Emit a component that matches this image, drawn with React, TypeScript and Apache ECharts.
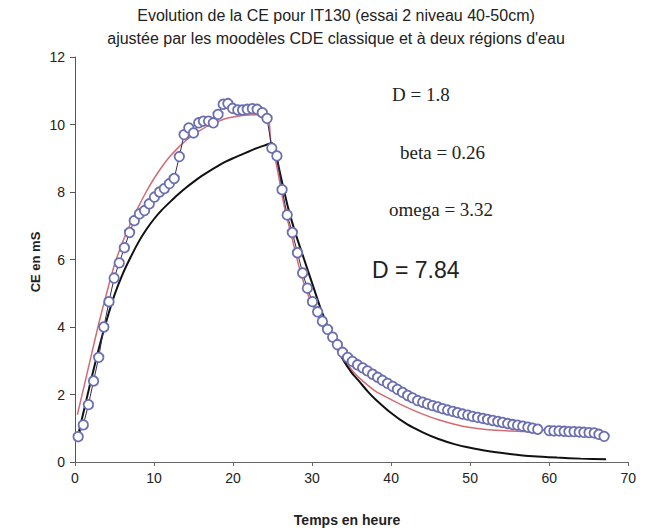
import React, { useEffect, useRef } from "react";
import * as echarts from "echarts";

const titleLines = [
  "Evolution de la CE pour IT130 (essai 2 niveau 40-50cm)",
  "ajustée par les moodèles CDE classique et à deux régions d'eau",
];
const xAxisName = "Temps en heure";
const yAxisName = "CE en mS";
const annotations = ["D = 1.8", "beta = 0.26", "omega = 3.32", "D = 7.84"];

// Observed CE (mS) vs time (h)
const obsTime = [
  0.4, 1.05, 1.7, 2.35, 3.0, 3.65, 4.3, 4.95, 5.6, 6.25, 6.9, 7.5, 8.15, 8.8, 9.4, 10.05, 10.7, 11.3, 11.95, 12.55,
  13.2, 13.8, 14.4, 15.0, 15.65, 16.25, 16.9, 17.5, 18.1, 18.75, 19.35, 19.95, 20.6, 21.2, 21.8, 22.45, 23.05, 23.7,
  24.3, 24.9, 25.55, 26.2, 26.85, 27.5, 28.15, 28.8, 29.4, 30.05, 30.7, 31.3, 31.95, 32.6, 33.2, 33.85, 34.5, 35.1,
  35.75, 36.4, 37.0, 37.65, 38.3, 38.9, 39.55, 40.2, 40.8, 41.45, 42.1, 42.7, 43.35, 44.0, 44.6, 45.25, 45.9, 46.5,
  47.15, 47.8, 48.4, 49.05, 49.7, 50.3, 50.95, 51.6, 52.2, 52.85, 53.5, 54.1, 54.75, 55.4, 56.0, 56.65, 57.3, 57.9,
  58.55, 60.0, 60.6, 61.25, 61.9, 62.5, 63.15, 63.8, 64.4, 65.05, 65.7, 66.3, 66.95,
];
const obsCE = [
  0.75, 1.1, 1.7, 2.4, 3.1, 4.0, 4.75, 5.45, 5.9, 6.35, 6.8, 7.15, 7.35, 7.45, 7.65, 7.85, 8.0, 8.1, 8.25, 8.4,
  9.05, 9.7, 9.9, 9.75, 10.05, 10.1, 10.1, 10.05, 10.3, 10.6, 10.62, 10.48, 10.43, 10.43, 10.45, 10.47, 10.45, 10.35,
  10.18, 9.3, 9.07, 8.07, 7.32, 6.8, 6.2, 5.6, 5.15, 4.75, 4.45, 4.17, 3.93, 3.7, 3.48, 3.25, 3.1, 2.98,
  2.88, 2.79, 2.7, 2.6, 2.51, 2.42, 2.33, 2.24, 2.15, 2.06, 1.97, 1.9, 1.82, 1.77, 1.72, 1.67, 1.63, 1.58,
  1.54, 1.5, 1.46, 1.42, 1.39, 1.35, 1.32, 1.29, 1.26, 1.23, 1.2, 1.17, 1.14, 1.11, 1.09, 1.06, 1.03, 1.0,
  0.97, 0.93, 0.92, 0.92, 0.91, 0.9, 0.9, 0.89, 0.88, 0.87, 0.86, 0.82, 0.76,
];

// Two-region CDE fit (red)
const twoRegionTime = [
  0.3, 1, 2, 3, 4, 5, 6, 7, 8, 9, 10, 11, 12, 13, 14, 15, 16, 17, 18, 19, 20, 21, 22, 23, 24, 24.5, 24.8, 25.5,
  26.5, 27.5, 28.5, 29.5, 30.5, 31.5, 32.5, 33.5, 34.5, 35.5, 36.5, 38, 40, 42, 44, 46, 48, 50, 52, 54, 56, 57,
];
const twoRegionCE = [
  1.4, 2.1, 3.1, 4.1, 5.0, 5.85, 6.5, 7.05, 7.55, 8.0, 8.4, 8.75, 9.05, 9.3, 9.52, 9.7, 9.85, 9.98, 10.08, 10.17,
  10.22, 10.26, 10.28, 10.29, 10.28, 10.22, 9.45, 8.8, 7.55, 6.6, 5.65, 4.95, 4.45, 4.0, 3.6, 3.2, 2.88, 2.6, 2.38,
  2.1, 1.85, 1.62, 1.42, 1.25, 1.12, 1.02, 0.96, 0.93, 0.91, 0.9,
];

// Classic CDE fit (black)
const classicTime = [
  0.3, 1, 2, 3, 4, 5, 6, 7, 8, 9, 10, 11, 12, 13, 14, 15, 16, 17, 18, 19, 20, 21, 22, 23, 24, 24.9, 25.3, 26, 27,
  28, 29, 30, 31, 32, 33, 34, 35, 36, 37, 38, 40, 42, 44, 46, 48, 50, 52, 55, 58, 61, 64, 67.2,
];
const classicCE = [
  0.7, 1.4, 2.4, 3.35, 4.2, 4.95, 5.55, 6.05, 6.5, 6.88, 7.2, 7.47, 7.7, 7.92, 8.12, 8.3, 8.47, 8.62, 8.76, 8.89,
  9.0, 9.1, 9.2, 9.3, 9.38, 9.45, 9.25, 8.5, 7.5, 6.7, 6.0, 5.3, 4.6, 4.0, 3.45, 3.0, 2.65, 2.38, 2.1, 1.86,
  1.45, 1.12, 0.88, 0.68, 0.53, 0.42, 0.33, 0.24, 0.17, 0.13, 0.1, 0.08,
];

const xTicks = { min: 0, max: 70, interval: 10 };
const yTicks = { min: 0, max: 12, interval: 2 };

const zip = (a: number[], b: number[]) => a.map((v, i) => [v, b[i]]);

export default function App() {
  const ref = useRef<HTMLDivElement>(null);
  useEffect(() => {
    if (!ref.current) return;
    const chart = echarts.init(ref.current, null, { renderer: "svg" });
    const sans = "'Liberation Sans', Arial, sans-serif";
    const serif = "'Liberation Serif', 'Times New Roman', serif";
    chart.setOption({
      animation: false,
      backgroundColor: "#ffffff",
      grid: { left: 75, right: 4, top: 57, bottom: 69, containLabel: false },
      xAxis: {
        type: "value",
        min: xTicks.min,
        max: xTicks.max,
        interval: xTicks.interval,
        axisLine: { show: true, lineStyle: { color: "#666", width: 1 } },
        axisTick: { show: true, length: 4, lineStyle: { color: "#666" } },
        axisLabel: { color: "#222", fontSize: 14, fontFamily: sans, margin: 9 },
        splitLine: { show: false },
      },
      yAxis: {
        type: "value",
        min: yTicks.min,
        max: yTicks.max,
        interval: yTicks.interval,
        axisLine: { show: true, lineStyle: { color: "#555", width: 1 } },
        axisTick: { show: true, length: 5, lineStyle: { color: "#555" } },
        axisLabel: { color: "#222", fontSize: 14, fontFamily: sans, margin: 10 },
        splitLine: { show: false },
      },
      graphic: [
        {
          type: "text",
          x: 336,
          y: 4,
          style: {
            text: titleLines.join("\n"),
            align: "center",
            verticalAlign: "top",
            fontSize: 16,
            lineHeight: 23,
            fontFamily: sans,
            fill: "#222",
          },
        },
        {
          type: "text",
          x: 35,
          y: 262,
          rotation: Math.PI / 2,
          style: {
            text: yAxisName,
            align: "center",
            verticalAlign: "middle",
            fontSize: 13,
            fontWeight: "bold",
            fontFamily: sans,
            fill: "#222",
          },
        },
        {
          type: "text",
          x: 347,
          y: 520,
          style: {
            text: xAxisName,
            align: "center",
            verticalAlign: "middle",
            fontSize: 14,
            fontWeight: "bold",
            fontFamily: sans,
            fill: "#222",
          },
        },
        {
          type: "text",
          x: 392,
          y: 94,
          style: { text: annotations[0], verticalAlign: "middle", fontSize: 19, fontFamily: serif, fill: "#222" },
        },
        {
          type: "text",
          x: 400,
          y: 152,
          style: { text: annotations[1], verticalAlign: "middle", fontSize: 19, fontFamily: serif, fill: "#222" },
        },
        {
          type: "text",
          x: 389,
          y: 209,
          style: { text: annotations[2], verticalAlign: "middle", fontSize: 19, fontFamily: serif, fill: "#222" },
        },
        {
          type: "text",
          x: 372,
          y: 270,
          style: { text: annotations[3], verticalAlign: "middle", fontSize: 23, fontFamily: sans, fill: "#222" },
        },
      ],
      series: [
        {
          name: "CDE deux régions",
          type: "line",
          data: zip(twoRegionTime, twoRegionCE),
          showSymbol: false,
          smooth: 0.2,
          lineStyle: { color: "#d46a74", width: 1.5 },
          z: 2,
        },
        {
          name: "CDE classique",
          type: "line",
          data: zip(classicTime, classicCE),
          showSymbol: false,
          smooth: 0.2,
          lineStyle: { color: "#111", width: 2 },
          z: 3,
        },
        {
          name: "Observé",
          type: "line",
          data: zip(obsTime, obsCE),
          symbol: "circle",
          symbolSize: 9.5,
          showAllSymbol: true,
          lineStyle: { color: "#2c2c66", width: 1 },
          itemStyle: { color: "#ffffff", borderColor: "#6b6fb2", borderWidth: 1.8 },
          z: 4,
        },
      ],
    });
    return () => chart.dispose();
  }, []);
  return (
    <div
      ref={ref}
      style={{ position: "fixed", left: 0, top: 0, width: 639, height: 531, background: "#fff" }}
    />
  );
}
